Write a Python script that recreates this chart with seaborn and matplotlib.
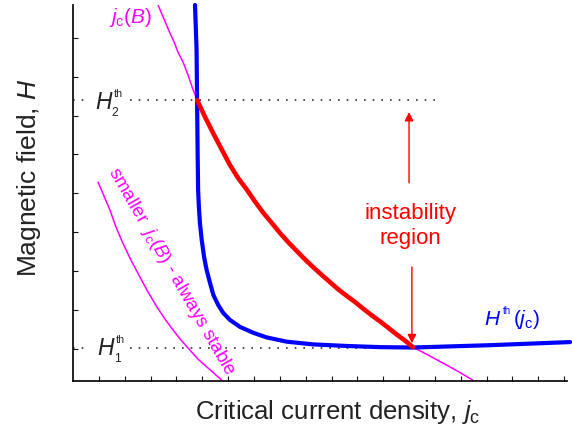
import numpy as np
import pandas as pd
import matplotlib
matplotlib.use("Agg")
import matplotlib.pyplot as plt
import seaborn as sns

# ---------------- data ----------------
# threshold field H^th(j_c)  (blue)
jc_threshold = [4.72, 4.78, 4.80, 4.82, 4.84, 4.87, 4.91, 4.98, 5.07, 5.17,
                5.30, 5.43, 5.62, 5.81, 6.07, 6.46, 6.97, 7.49, 8.27, 9.30,
                10.59, 11.88, 13.15, 16.13, 19.23]
H_threshold = [8.84, 7.69, 6.40, 5.12, 4.09, 3.65, 3.24, 2.80, 2.37, 2.03,
               1.70, 1.39, 1.13, 0.93, 0.75, 0.57, 0.42, 0.30, 0.19, 0.12,
               0.08, 0.05, 0.04, 0.10, 0.18]

# unstable part of j_c(B)  (red)
jc_unstable = [4.80, 5.11, 5.42, 5.76, 6.07, 6.38, 6.73, 7.04, 7.35, 7.70,
               8.01, 8.32, 8.67, 8.98, 9.28, 9.63, 9.94, 10.25, 10.60, 10.91,
               11.22, 11.57, 11.88, 12.19, 12.53, 12.84, 13.15]
H_unstable = [6.40, 5.96, 5.55, 5.12, 4.73, 4.40, 4.09, 3.79, 3.51, 3.23,
              2.98, 2.75, 2.51, 2.30, 2.11, 1.90, 1.72, 1.54, 1.36, 1.21,
              1.04, 0.86, 0.71, 0.55, 0.37, 0.22, 0.05]

# rest of j_c(B)  (magenta)
jc_B_upper = [3.29, 3.52, 3.75, 3.91, 4.06, 4.26, 4.45, 4.62]
H_B_upper = [8.84, 8.48, 8.12, 7.89, 7.63, 7.37, 7.04, 6.71]
jc_B_lower = [13.73, 14.31, 14.89, 15.47]
H_B_lower = [-0.15, -0.36, -0.57, -0.80]

# smaller j_c(B)  (magenta)
jc_smaller = [0.97, 1.20, 1.43, 1.66, 1.93, 2.24, 2.59, 2.90, 3.25, 3.56,
              3.87, 4.18, 4.53, 4.84, 5.18, 5.45, 5.76]
H_smaller = [4.29, 3.93, 3.57, 3.14, 2.72, 2.29, 1.85, 1.47, 1.08, 0.77,
             0.49, 0.23, -0.03, -0.26, -0.46, -0.62, -0.80]

H1_th = 0.03
H2_th = 6.40
H1_end = 13.15
H2_end = 14.12

x_ticks = list(range(1, 20))
y_ticks = list(range(0, 9))

# ---------------- style ----------------
sns.set_theme(style="ticks")
plt.rcParams["font.family"] = ["Liberation Sans", "DejaVu Sans"]
plt.rcParams["mathtext.fontset"] = "custom"
plt.rcParams["mathtext.rm"] = "Liberation Sans"
plt.rcParams["mathtext.it"] = "Liberation Sans:italic"
plt.rcParams["mathtext.bf"] = "Liberation Sans:bold"

BLUE = "#0000FF"
RED = "#FF0000"
MAG = "#FF00FF"
TXT = "#222222"

fig = plt.figure(figsize=(5.72, 4.33), dpi=100)
ax = fig.add_axes([73 / 572, 1 - 381 / 433, 494 / 572, 376 / 433])

df_th = pd.DataFrame({"jc": jc_threshold, "H": H_threshold})
df_un = pd.DataFrame({"jc": jc_unstable, "H": H_unstable})
df_B = pd.DataFrame({"jc": jc_B_upper + jc_unstable + jc_B_lower,
                     "H": H_B_upper + H_unstable + H_B_lower})
df_sm = pd.DataFrame({"jc": jc_smaller, "H": H_smaller})

sns.lineplot(data=df_sm, x="jc", y="H", sort=False, estimator=None,
             color=MAG, lw=1.1, ax=ax, zorder=2)
sns.lineplot(data=df_B, x="jc", y="H", sort=False, estimator=None,
             color=MAG, lw=1.1, ax=ax, zorder=2)

# dotted threshold levels
dot = dict(color="#333333", lw=1.2, dashes=(1, 4.2), zorder=1)
ax.plot([0, 0.5], [H2_th, H2_th], **dot)
ax.plot([2.2, H2_end], [H2_th, H2_th], **dot)
ax.plot([0, 0.5], [H1_th, H1_th], **dot)
ax.plot([2.2, H1_end], [H1_th, H1_th], **dot)

sns.lineplot(data=df_th, x="jc", y="H", sort=False, estimator=None,
             color=BLUE, lw=3.0, ax=ax, zorder=3)
sns.lineplot(data=df_un, x="jc", y="H", sort=False, estimator=None,
             color=RED, lw=3.3, ax=ax, zorder=4)
for ln in ax.lines:
    ln.set_solid_joinstyle("round")
ax.lines[-2].set_clip_on(False)

ax.set_xlim(0, 19.11)
ax.set_ylim(-0.82, 8.84)
ax.set_xticks(x_ticks)
ax.set_yticks(y_ticks)
ax.tick_params(direction="in", length=3.5, width=0.8, color="#111111",
               labelleft=False, labelbottom=False)
for s in ["top", "right"]:
    ax.spines[s].set_visible(False)
for s in ["left", "bottom"]:
    ax.spines[s].set_linewidth(1.3)
    ax.spines[s].set_color("#111111")

ax.set_xlabel(r"Critical current density, $j_{\rm c}$", fontsize=18.5,
              color=TXT, va="center")
ax.xaxis.set_label_coords(0.535, -0.083)
ax.set_ylabel(r"Magnetic field, $H$", fontsize=19, color=TXT, va="center")
ax.yaxis.set_label_coords(-0.09, 0.54)

# arrows
arr = dict(arrowstyle="-|>", color=RED, lw=1.0, mutation_scale=13,
           shrinkA=0, shrinkB=0)
ax.annotate("", xy=(13.0, 6.09), xytext=(13.0, 4.27), arrowprops=arr)
ax.annotate("", xy=(13.11, 0.15), xytext=(13.11, 2.11), arrowprops=arr)
ax.text(13.04, 3.16, "instability\nregion", color=RED, fontsize=16,
        ha="center", va="center", multialignment="center", linespacing=1.2)

# curve labels
ax.text(2.24, 8.51, r"$j_{\rm c}(B)$", color=MAG, fontsize=15,
        ha="center", va="center")
ax.text(3.80, 2.0, r"smaller  $j_{\rm c}(B)$ - always stable", color=MAG,
        fontsize=13.5, rotation=-60, rotation_mode="anchor",
        ha="center", va="center")


def h_label(x, y, sub, size, color, sup_dx, sub_dx):
    ax.text(x, y, "H", fontsize=size, style="italic", color=color,
            ha="left", va="baseline")
    ax.annotate("th", xy=(x, y), xytext=(sup_dx, 0.52 * size),
                textcoords="offset points", fontsize=0.47 * size,
                color=color, ha="left", va="baseline")
    if sub:
        ax.annotate(sub, xy=(x, y), xytext=(sub_dx, -0.32 * size),
                    textcoords="offset points", fontsize=0.53 * size,
                    color=color, ha="left", va="baseline")


h_label(0.85, 6.18, "2", 16.5, TXT, 13.2, 12.2)
h_label(0.93, -0.15, "1", 16.5, TXT, 13.2, 12.0)

# H^th(j_c) in blue
hx, hy = 15.9, 0.62
h_label(hx, hy, None, 15, BLUE, 13.5, 0)
ax.annotate(r"$(j_{\rm c})$", xy=(hx, hy), xytext=(21.0, 0),
            textcoords="offset points", fontsize=15, color=BLUE,
            ha="left", va="baseline")

fig.savefig("out.png", dpi=100)
